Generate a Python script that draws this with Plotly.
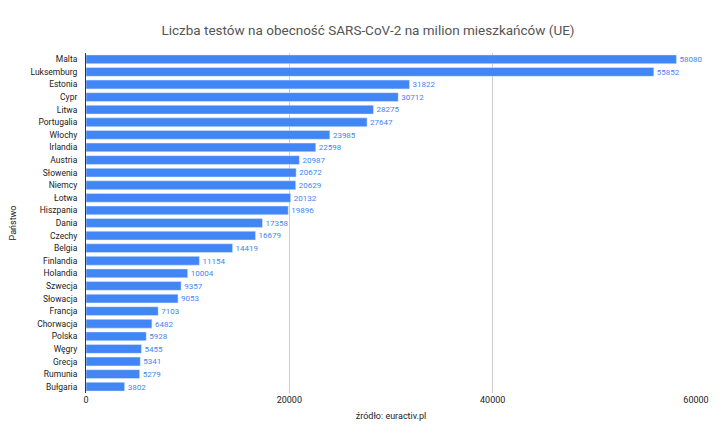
import plotly.graph_objects as go

countries = ["Malta", "Luksemburg", "Estonia", "Cypr", "Litwa", "Portugalia", "Włochy", "Irlandia",
             "Austria", "Słowenia", "Niemcy", "Łotwa", "Hiszpania", "Dania", "Czechy", "Belgia",
             "Finlandia", "Holandia", "Szwecja", "Słowacja", "Francja", "Chorwacja", "Polska",
             "Węgry", "Grecja", "Rumunia", "Bułgaria"]
tests = [58080, 55852, 31822, 30712, 28275, 27647, 23985, 22598, 20987, 20672, 20629, 20132, 19896,
         17358, 16679, 14419, 11154, 10004, 9357, 9053, 7103, 6482, 5928, 5455, 5341, 5279, 3802]

fig = go.Figure(go.Bar(
    x=tests, y=countries, orientation="h",
    marker=dict(color="#4285F4"),
    text=[str(v) for v in tests], textposition="outside",
    textfont=dict(color="#4285F4", size=10), cliponaxis=False,
    width=0.7,
))

fig.update_layout(
    width=720, height=445,
    margin=dict(l=78, r=32, t=45, b=60),
    paper_bgcolor="white", plot_bgcolor="white",
    font=dict(family="Roboto, Arial", color="#222222"),
    title=dict(text="Liczba testów na obecność SARS-CoV-2 na milion mieszkańców (UE)",
               x=0.5, y=0.95, yanchor="middle", xanchor="center",
               font=dict(size=13.5, color="#555555")),
    showlegend=False,
)
fig.update_xaxes(range=[0, 60000], tickvals=[0, 20000, 40000, 60000],
                 ticktext=["0", "20000", "40000", "60000"], showgrid=True,
                 gridcolor="#cccccc", zeroline=False, tickfont=dict(size=9),
                 automargin=False,
                 title=dict(text="źródło: euractiv.pl", font=dict(size=9), standoff=8))
fig.update_yaxes(autorange="reversed", tickfont=dict(size=8.5), showline=True,
                 linecolor="#333333", ticks="", ticklabelstandoff=6, automargin=False,
                 title=dict(text="Państwo", font=dict(size=9), standoff=20))

fig.write_html("out.html")
